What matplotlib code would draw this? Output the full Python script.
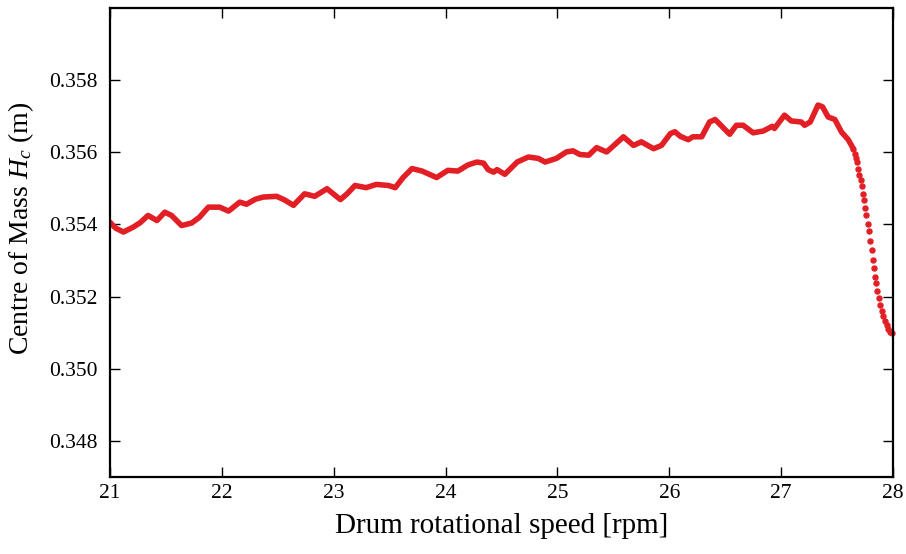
import matplotlib
matplotlib.use("Agg")
import matplotlib.pyplot as plt

plt.rcParams['font.family'] = ['Liberation Serif', 'DejaVu Serif']
plt.rcParams['mathtext.fontset'] = 'custom'
plt.rcParams['mathtext.rm'] = 'Liberation Serif'
plt.rcParams['mathtext.it'] = 'Liberation Serif:italic'

# Main (dense) trace: drum speed [rpm] and centre of mass [m]
speed = [21.00, 21.05, 21.12, 21.21, 21.27, 21.34, 21.42, 21.49, 21.55, 21.64,
         21.73, 21.80, 21.88, 21.98, 22.06, 22.16, 22.22, 22.30, 22.37, 22.49,
         22.56, 22.64, 22.74, 22.83, 22.94, 23.06, 23.12, 23.19, 23.29, 23.38,
         23.49, 23.55, 23.62, 23.70, 23.79, 23.92, 24.02, 24.11, 24.20, 24.28,
         24.34, 24.38, 24.43, 24.46, 24.53, 24.64, 24.74, 24.83, 24.89, 24.99,
         25.08, 25.14, 25.20, 25.28, 25.35, 25.44, 25.53, 25.59, 25.68, 25.75,
         25.86, 25.93, 26.01, 26.05, 26.10, 26.17, 26.21, 26.29, 26.36, 26.41,
         26.47, 26.54, 26.60, 26.66, 26.75, 26.84, 26.92, 26.94, 27.03, 27.09,
         27.18, 27.21, 27.26, 27.33, 27.37, 27.42, 27.48, 27.54, 27.60, 27.645]
hc = [0.35406, 0.35390, 0.35379, 0.35393, 0.35405, 0.35425, 0.35411, 0.35434, 0.35425, 0.35397,
      0.35404, 0.35420, 0.35448, 0.35448, 0.35437, 0.35462, 0.35456, 0.35470, 0.35476, 0.35478,
      0.35468, 0.35453, 0.35485, 0.35478, 0.35499, 0.35469, 0.35485, 0.35508, 0.35502, 0.35511,
      0.35508, 0.35502, 0.35530, 0.35555, 0.35548, 0.35530, 0.35550, 0.35548, 0.35565, 0.35573,
      0.35570, 0.35552, 0.35545, 0.35552, 0.35539, 0.35573, 0.35587, 0.35583, 0.35573, 0.35583,
      0.35601, 0.35604, 0.35594, 0.35592, 0.35613, 0.35601, 0.35626, 0.35643, 0.35619, 0.35629,
      0.35610, 0.35619, 0.35652, 0.35657, 0.35644, 0.35635, 0.35643, 0.35643, 0.35684, 0.35691,
      0.35672, 0.35650, 0.35675, 0.35675, 0.35654, 0.35659, 0.35672, 0.35666, 0.35703, 0.35687,
      0.35684, 0.35675, 0.35684, 0.35731, 0.35726, 0.35698, 0.35691, 0.35656, 0.35635, 0.35610]

# Sparse samples in the collapse region
drop_speed = [27.645, 27.660, 27.669, 27.681, 27.690, 27.698, 27.711, 27.720, 27.732, 27.740,
              27.752, 27.761, 27.774, 27.783, 27.797, 27.809, 27.821, 27.830, 27.842, 27.851,
              27.860, 27.872, 27.887, 27.899, 27.913, 27.928, 27.943, 27.958, 27.973, 27.988]
drop_hc = [0.356103, 0.355964, 0.355842, 0.355731, 0.355547, 0.355361, 0.355222, 0.355064, 0.354833, 0.354667,
           0.354453, 0.354250, 0.354019, 0.353806, 0.353536, 0.353297, 0.353028, 0.352806, 0.352556, 0.352369,
           0.352167, 0.351964, 0.351769, 0.351611, 0.351472, 0.351333, 0.351214, 0.351103, 0.351008, 0.350992]

xticks = [21, 22, 23, 24, 25, 26, 27, 28]
yticks = [0.348, 0.350, 0.352, 0.354, 0.356, 0.358]

red = '#e31f26'

fig = plt.figure(figsize=(9.06, 5.54), dpi=100)
ax = fig.add_axes([110/906, 77/554, 783/906, 469/554])

ax.plot(speed, hc, color=red, lw=4.0, solid_joinstyle='round', solid_capstyle='round')
ax.plot(drop_speed, drop_hc, linestyle='none', marker='o', ms=3.6, color=red, mec=red,
        clip_on=False)

ax.set_xlim(21, 28)
ax.set_ylim(0.347, 0.360)
ax.set_xticks(xticks)
ax.set_yticks(yticks)
ax.set_xticklabels([str(t) for t in xticks])
ax.set_yticklabels([f"{t:.3f}" for t in yticks])

ax.tick_params(direction='in', length=7, width=1, top=True, right=True, labelsize=15.5)
ax.tick_params(axis='x', pad=5)
ax.tick_params(axis='y', pad=9)
for s in ax.spines.values():
    s.set_linewidth(1.6)
    s.set_zorder(5)

ax.set_xlabel('Drum rotational speed [rpm]', fontsize=21, labelpad=7)
ax.set_ylabel('Centre of Mass $H_c$ (m)', fontsize=20)
ax.yaxis.set_label_coords(-0.094, 0.53)

fig.savefig('out.png', dpi=100)
